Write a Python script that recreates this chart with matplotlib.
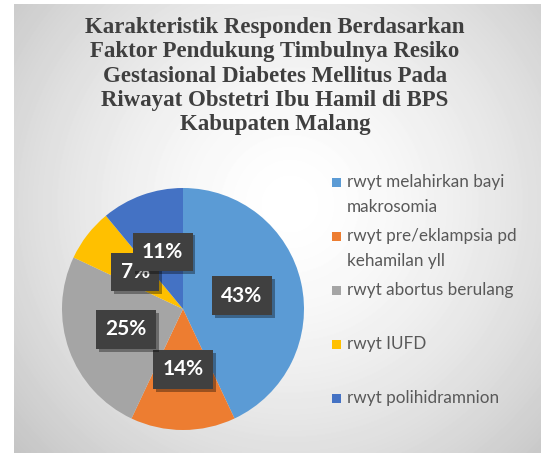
import numpy as np
import matplotlib
matplotlib.use("Agg")
import matplotlib.pyplot as plt
import matplotlib.patheffects as pe
from matplotlib.patches import Rectangle

title = ("Karakteristik Responden Berdasarkan\nFaktor Pendukung Timbulnya Resiko\n"
         "Gestasional Diabetes Mellitus Pada\nRiwayat Obstetri Ibu Hamil di BPS\n"
         "Kabupaten Malang")
labels = ["rwyt melahirkan bayi\nmakrosomia",
          "rwyt pre/eklampsia pd\nkehamilan yll",
          "rwyt abortus berulang",
          "rwyt IUFD",
          "rwyt polihidramnion"]
values = [43, 14, 25, 7, 11]
colors = ["#5B9BD5", "#ED7D31", "#A5A5A5", "#FFC000", "#4472C4"]

W, H = 541, 453
fig = plt.figure(figsize=(W / 100, H / 100), dpi=100)
fig.patch.set_facecolor("white")

# radial grey background of the chart area
bg = fig.add_axes([14 / W, 0, (W - 14) / W, (H - 4) / H])
yy, xx = np.mgrid[0:H - 4, 0:W - 14]
d = np.hypot(xx - 276, yy - 200) / 380.0
shade = 1.0 - 0.24 * np.clip(d, 0, 1) ** 1.6
bg.imshow(shade, cmap="gray", vmin=0, vmax=1, aspect="auto", interpolation="bilinear")
bg.axis("off")

fig.text(275 / W, 1 - 76 / H, title, ha="center", va="center",
         family="Liberation Serif", fontweight="bold", fontsize=16.5,
         color="#3f3f3f", linespacing=1.2)

ax = fig.add_axes([62 / W, 23 / H, 242 / W, 242 / H])
wedges, _, autotexts = ax.pie(values, colors=colors, startangle=90, counterclock=False,
                              autopct="%d%%", pctdistance=0.5, radius=1.0)
ax.set_xlim(-1, 1)
ax.set_ylim(-1, 1)
ax.set_aspect("equal")
for t in autotexts:
    t.set_family("Lato")
    t.set_fontweight("bold")
    t.set_fontsize(15)
    t.set_color("white")
    t.set_bbox(dict(boxstyle="square,pad=0.45", facecolor="#404040", edgecolor="none"))
    t.get_bbox_patch().set_path_effects([pe.withSimplePatchShadow(offset=(2, -2), shadow_rgbFace="k", alpha=0.35)])

# legend, Excel style equal slots
slot_top = 182
slot = 54
for i, (lab, col) in enumerate(zip(labels, colors)):
    yc = slot_top + i * slot
    fig.patches.append(Rectangle((332 / W, 1 - (yc + 4.5) / H), 9 / W, 9 / H,
                                 transform=fig.transFigure, facecolor=col, edgecolor="none"))
    fig.text(347 / W, 1 - (yc - 8.5) / H, lab, ha="left", va="top", family="Lato",
             fontsize=12.3, color="#595959", linespacing=1.7)

fig.savefig("out.png", dpi=100)
